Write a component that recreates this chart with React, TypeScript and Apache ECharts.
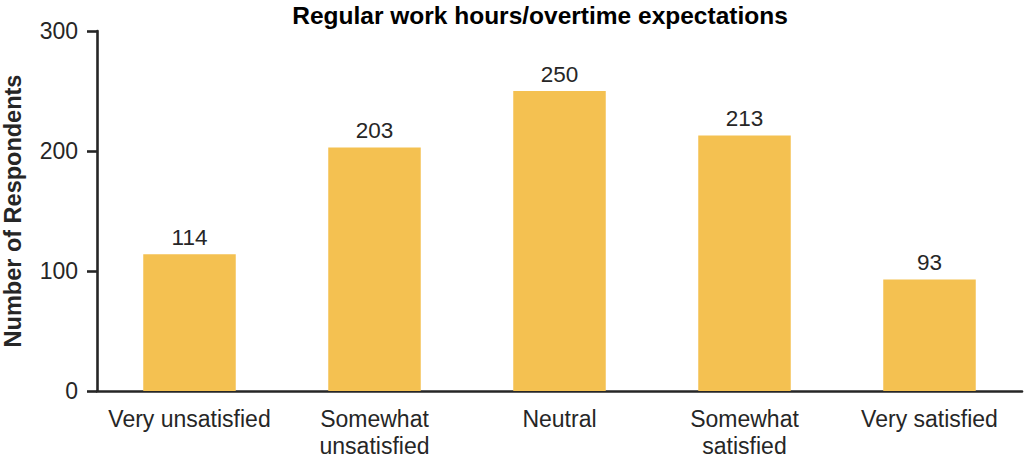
import React, { useEffect, useRef } from "react";
import * as echarts from "echarts";

const categories = [
  "Very unsatisfied",
  "Somewhat\nunsatisfied",
  "Neutral",
  "Somewhat\nsatisfied",
  "Very satisfied",
];
const respondents = [114, 203, 250, 213, 93];
const yTicks = { min: 0, max: 300, interval: 100 };

const FONT = "'Liberation Sans', Arial, Helvetica, sans-serif";
const AXIS_COLOR = "#262626";

export default function App() {
  const ref = useRef<HTMLDivElement>(null);
  useEffect(() => {
    if (!ref.current) return;
    const chart = echarts.init(ref.current, null, { renderer: "svg" });
    chart.setOption({
      animation: false,
      textStyle: { fontFamily: FONT },
      title: {
        text: "Regular work hours/overtime expectations",
        left: 540,
        textAlign: "center",
        top: 3,
        padding: 0,
        textStyle: { fontFamily: FONT, fontSize: 24.5, fontWeight: "bold", color: "#000" },
      },
      grid: {
        left: 97,
        right: 2,
        top: 31,
        bottom: 72,
        containLabel: false,
        outerBoundsMode: "none",
      },
      xAxis: {
        type: "category",
        data: categories,
        axisLine: { lineStyle: { color: AXIS_COLOR, width: 2.6 } },
        axisTick: { alignWithLabel: true, length: 10, lineStyle: { color: AXIS_COLOR, width: 2.6 } },
        axisLabel: {
          interval: 0,
          margin: 14,
          fontSize: 23,
          lineHeight: 27,
          color: AXIS_COLOR,
          fontFamily: FONT,
        },
      },
      yAxis: {
        type: "value",
        min: yTicks.min,
        max: yTicks.max,
        interval: yTicks.interval,
        name: "Number of Respondents",
        nameLocation: "middle",
        nameGap: 72,
        nameTextStyle: { fontSize: 23.5, fontWeight: "bold", color: AXIS_COLOR, fontFamily: FONT },
        axisLine: { show: true, lineStyle: { color: AXIS_COLOR, width: 2.6 } },
        axisTick: { show: true, length: 10, lineStyle: { color: AXIS_COLOR, width: 2.6 } },
        axisLabel: { margin: 19, fontSize: 23, color: AXIS_COLOR, fontFamily: FONT },
        splitLine: { show: false },
      },
      series: [
        {
          type: "bar",
          data: respondents,
          barWidth: "50%",
          itemStyle: { color: "#F4C151" },
          label: {
            show: true,
            position: "top",
            distance: 5,
            fontSize: 22.5,
            color: AXIS_COLOR,
            fontFamily: FONT,
          },
        },
      ],
    });
    return () => chart.dispose();
  }, []);
  return (
    <div
      ref={ref}
      style={{ position: "fixed", left: 0, top: 0, width: 1024, height: 463, background: "#fff" }}
    />
  );
}
